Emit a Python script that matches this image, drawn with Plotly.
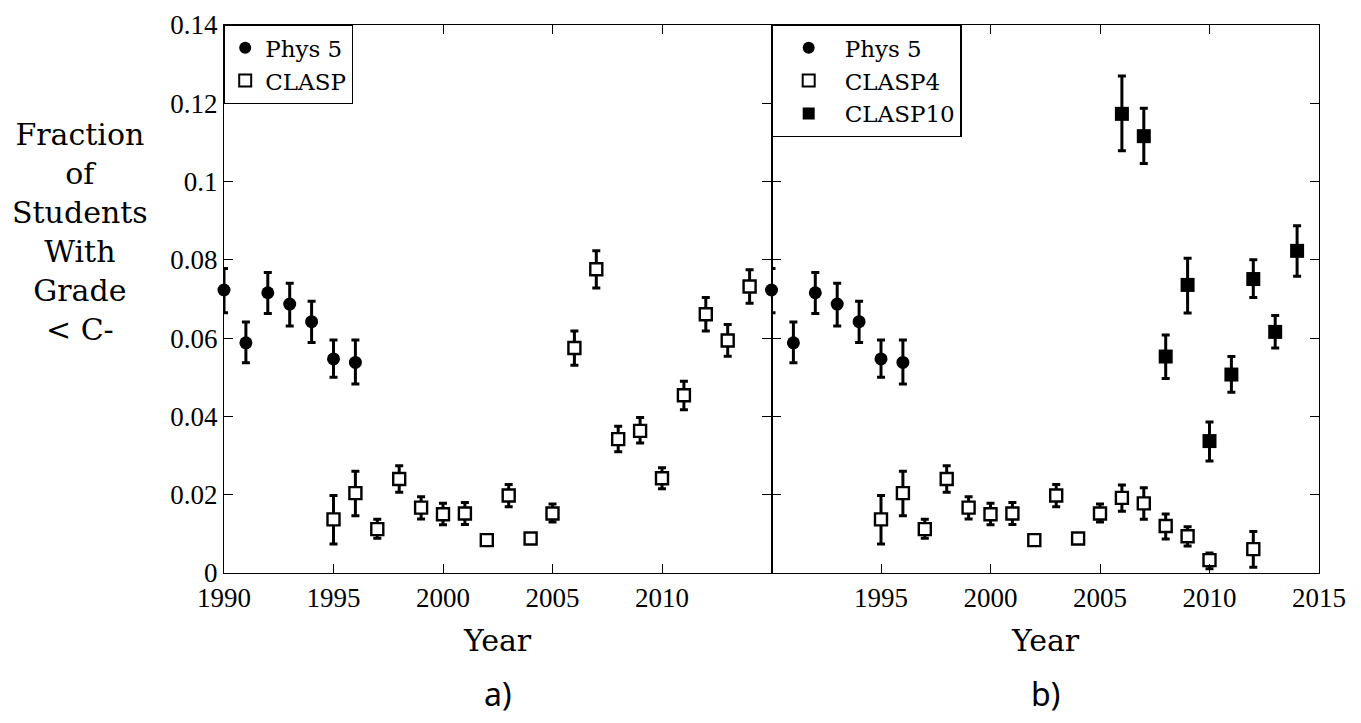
import plotly.graph_objects as go

# ---------------- data ----------------
phys_years = [1990, 1991, 1992, 1993, 1994, 1995, 1996]
phys_vals = [0.0723, 0.0588, 0.0716, 0.0687, 0.0642, 0.0547, 0.0538]
phys_plus = [0.0055, 0.0053, 0.0052, 0.0053, 0.0052, 0.0048, 0.0057]
phys_minus = [0.0058, 0.0051, 0.0053, 0.0056, 0.0053, 0.0047, 0.0055]

clasp_years = [1995, 1996, 1997, 1998, 1999, 2000, 2001, 2002, 2003, 2004,
               2005, 2006, 2007, 2008, 2009, 2010, 2011, 2012, 2013, 2014]
clasp_vals = [0.0137, 0.0204, 0.0112, 0.0240, 0.0167, 0.0150, 0.0152, 0.0084, 0.0198, 0.0088,
              0.0152, 0.0575, 0.0776, 0.0342, 0.0363, 0.0242, 0.0454, 0.0661, 0.0594, 0.0732]
clasp_plus = [0.0061, 0.0056, 0.0025, 0.0034, 0.0028, 0.0028, 0.0028, 0.0012, 0.0028, 0.0012,
              0.0024, 0.0043, 0.0047, 0.0033, 0.0034, 0.0027, 0.0036, 0.0043, 0.0041, 0.0043]
clasp_minus = [0.0063, 0.0058, 0.0023, 0.0034, 0.0029, 0.0027, 0.0028, 0.0012, 0.0029, 0.0012,
               0.0022, 0.0044, 0.0048, 0.0032, 0.0031, 0.0027, 0.0037, 0.0043, 0.0040, 0.0043]

clasp4_years = [1995, 1996, 1997, 1998, 1999, 2000, 2001, 2002, 2003, 2004,
                2005, 2006, 2007, 2008, 2009, 2010, 2012]
clasp4_vals = [0.0137, 0.0204, 0.0112, 0.0240, 0.0167, 0.0150, 0.0152, 0.0084, 0.0198, 0.0088,
               0.0152, 0.0192, 0.0178, 0.0120, 0.0094, 0.0033, 0.0061]
clasp4_plus = [0.0061, 0.0056, 0.0025, 0.0034, 0.0028, 0.0028, 0.0028, 0.0012, 0.0028, 0.0012,
               0.0024, 0.0033, 0.0040, 0.0031, 0.0024, 0.0018, 0.0045]
clasp4_minus = [0.0063, 0.0058, 0.0023, 0.0034, 0.0029, 0.0027, 0.0028, 0.0012, 0.0029, 0.0012,
                0.0022, 0.0034, 0.0041, 0.0033, 0.0025, 0.0022, 0.0046]

clasp10_years = [2006, 2007, 2008, 2009, 2010, 2011, 2012, 2013, 2014]
clasp10_vals = [0.1173, 0.1116, 0.0553, 0.0736, 0.0337, 0.0507, 0.0751, 0.0616, 0.0823]
clasp10_plus = [0.0097, 0.0071, 0.0055, 0.0068, 0.0049, 0.0046, 0.0049, 0.0042, 0.0064]
clasp10_minus = [0.0094, 0.0070, 0.0056, 0.0072, 0.0051, 0.0045, 0.0047, 0.0041, 0.0065]

y_tickvals = [0, 0.02, 0.04, 0.06, 0.08, 0.1, 0.12, 0.14]
y_ticktext = ["0", "0.02", "0.04", "0.06", "0.08", "0.1", "0.12", "0.14"]
x_left_ticks = [1990, 1995, 2000, 2005, 2010]
x_right_ticks = [1995, 2000, 2005, 2010, 2015]

# ---------------- figure ----------------
SERIF = "Liberation Serif"
TITLE_FONT = "DejaVu Serif"

W, H = 1345, 707          # page body has an 8px margin in the browser
ML, MR, MT, MB = 216, 34, 17, 142
plot_w = W - ML - MR
plot_h = H - MT - MB


def err(plus, minus):
    return dict(type="data", symmetric=False, array=plus, arrayminus=minus,
                color="black", thickness=3, width=4)


fig = go.Figure()

circle = dict(symbol="circle", size=13, color="black", line=dict(color="black", width=0))
open_sq = dict(symbol="square", size=12, color="white", line=dict(color="black", width=2.4))
fill_sq = dict(symbol="square", size=14, color="black", line=dict(color="black", width=0))

# left panel
fig.add_trace(go.Scatter(x=phys_years, y=phys_vals, mode="markers", name="Phys 5",
                         marker=circle, error_y=err(phys_plus, phys_minus),
                         cliponaxis=False, xaxis="x", yaxis="y", legend="legend"))
fig.add_trace(go.Scatter(x=clasp_years, y=clasp_vals, mode="markers", name="CLASP",
                         marker=open_sq, error_y=err(clasp_plus, clasp_minus),
                         cliponaxis=False, xaxis="x", yaxis="y", legend="legend"))
# right panel
fig.add_trace(go.Scatter(x=phys_years, y=phys_vals, mode="markers", name="Phys 5",
                         marker=circle, error_y=err(phys_plus, phys_minus),
                         cliponaxis=False, xaxis="x2", yaxis="y2", legend="legend2"))
fig.add_trace(go.Scatter(x=clasp4_years, y=clasp4_vals, mode="markers", name="CLASP4",
                         marker=open_sq, error_y=err(clasp4_plus, clasp4_minus),
                         cliponaxis=False, xaxis="x2", yaxis="y2", legend="legend2"))
fig.add_trace(go.Scatter(x=clasp10_years, y=clasp10_vals, mode="markers", name="CLASP10",
                         marker=fill_sq, error_y=err(clasp10_plus, clasp10_minus),
                         cliponaxis=False, xaxis="x2", yaxis="y2", legend="legend2"))

axis_common = dict(showline=True, linecolor="black", linewidth=1.2, mirror="ticks",
                   ticks="inside", ticklen=9, tickwidth=1, tickcolor="black",
                   showgrid=False, zeroline=False, automargin=False,
                   tickfont=dict(family=SERIF, size=27, color="black"))

legend_common = dict(y=1, xanchor="left", yanchor="top", xref="paper", yref="paper",
                     bgcolor="white", bordercolor="black", borderwidth=1.2,
                     font=dict(family=TITLE_FONT, size=23, color="black"),
                     tracegroupgap=0, itemsizing="constant")

fig.update_layout(
    width=W, height=H,
    margin=dict(l=ML, r=MR, t=MT, b=MB, autoexpand=False),
    paper_bgcolor="white", plot_bgcolor="white",
    showlegend=True,
    xaxis=dict(domain=[0, 0.5], range=[1990, 2015], tickvals=x_left_ticks,
               ticktext=[str(v) for v in x_left_ticks], anchor="y", **axis_common),
    xaxis2=dict(domain=[0.5, 1], range=[1990, 2015], tickvals=x_right_ticks,
                ticktext=[str(v) for v in x_right_ticks], anchor="y2", **axis_common),
    yaxis=dict(range=[0, 0.14], tickvals=y_tickvals, ticktext=y_ticktext,
               anchor="x", **axis_common),
    yaxis2=dict(range=[0, 0.14], tickvals=y_tickvals, ticktext=y_ticktext,
                showticklabels=False, anchor="x2", **axis_common),
    legend=dict(x=0, itemwidth=30, **legend_common),
    legend2=dict(x=0.5, itemwidth=62, **legend_common),
)


def px_x(x):
    return (x - 8 - ML) / plot_w


def px_y(y):
    return (H - MB - (y - 8)) / plot_h


annotations = [
    dict(text="Fraction<br>of<br>Students<br>With<br>Grade<br>&lt; C-",
         x=px_x(80), y=px_y(232), xref="paper", yref="paper", showarrow=False,
         xanchor="center", yanchor="middle", align="center",
         font=dict(family=TITLE_FONT, size=30, color="black")),
    dict(text="Year", x=0.25, y=px_y(640), xref="paper", yref="paper", showarrow=False,
         xanchor="center", yanchor="middle",
         font=dict(family=TITLE_FONT, size=30, color="black")),
    dict(text="Year", x=0.75, y=px_y(640), xref="paper", yref="paper", showarrow=False,
         xanchor="center", yanchor="middle",
         font=dict(family=TITLE_FONT, size=30, color="black")),
    dict(text="a)", x=0.25, y=px_y(693), xref="paper", yref="paper", showarrow=False,
         xanchor="center", yanchor="middle",
         font=dict(family="Noto Sans", size=32, color="black")),
    dict(text="b)", x=0.75, y=px_y(693), xref="paper", yref="paper", showarrow=False,
         xanchor="center", yanchor="middle",
         font=dict(family="Noto Sans", size=32, color="black")),
]
fig.update_layout(annotations=annotations)

fig.write_html("out.html")
